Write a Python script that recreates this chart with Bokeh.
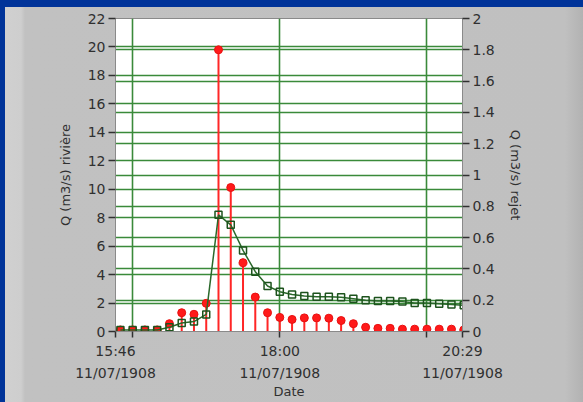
import pandas as pd
from bokeh.plotting import figure
from bokeh.layouts import column
from bokeh.models import LinearAxis, Range1d, FixedTicker, Grid, CustomJSTickFormatter
from bokeh.embed import file_html
from bokeh.resources import INLINE

# Sampling times (every 10 minutes, 11 July 1908)
times = ["1908-07-11 15:50", "1908-07-11 16:00", "1908-07-11 16:10", "1908-07-11 16:20",
         "1908-07-11 16:30", "1908-07-11 16:40", "1908-07-11 16:50", "1908-07-11 17:00",
         "1908-07-11 17:10", "1908-07-11 17:20", "1908-07-11 17:30", "1908-07-11 17:40",
         "1908-07-11 17:50", "1908-07-11 18:00", "1908-07-11 18:10", "1908-07-11 18:20",
         "1908-07-11 18:30", "1908-07-11 18:40", "1908-07-11 18:50", "1908-07-11 19:00",
         "1908-07-11 19:10", "1908-07-11 19:20", "1908-07-11 19:30", "1908-07-11 19:40",
         "1908-07-11 19:50", "1908-07-11 20:00", "1908-07-11 20:10", "1908-07-11 20:20",
         "1908-07-11 20:30"]

# River discharge (m3/s), left axis
q_riviere = [0.1, 0.1, 0.1, 0.1, 0.3, 0.6, 0.7, 1.2, 8.2, 7.5, 5.7, 4.2, 3.2, 2.8,
             2.6, 2.5, 2.45, 2.45, 2.4, 2.3, 2.2, 2.15, 2.15, 2.1, 2.0, 2.0, 1.95, 1.9, 1.85]

# Outflow discharge (m3/s), right axis
q_rejet = [0.01, 0.01, 0.01, 0.01, 0.05, 0.12, 0.11, 0.18, 1.80, 0.92, 0.44, 0.22, 0.12,
           0.09, 0.077, 0.087, 0.087, 0.085, 0.07, 0.05, 0.027, 0.02, 0.02, 0.015, 0.015,
           0.015, 0.015, 0.015, 0.01]

# Axis extents and tick marks
x_start = "1908-07-11 15:46"
x_end = "1908-07-11 20:29"
x_tick_times = ["1908-07-11 15:46", "1908-07-11 16:00", "1908-07-11 18:00",
                "1908-07-11 20:00", "1908-07-11 20:29"]
x_tick_labels = ["15:46\n11/07/1908", "", "18:00\n11/07/1908", "", "20:29\n11/07/1908"]
x_grid_times = ["1908-07-11 16:00", "1908-07-11 18:00", "1908-07-11 20:00"]
left_ticks = [0, 2, 4, 6, 8, 10, 12, 14, 16, 18, 20, 22]
right_ticks = [0, 0.2, 0.4, 0.6, 0.8, 1.0, 1.2, 1.4, 1.6, 1.8, 2.0]


def ms(s):
    return int(pd.Timestamp(s).value // 10**6)


t = [pd.Timestamp(s) for s in times]

FONT = "DejaVu Sans"
TXT = "#303030"
GRID = "#3a8a3a"

# Figure sits inside a blue frame (7px top, 5px left); its panel has a soft bevel
p = figure(width=578, height=395, x_axis_type="datetime",
           x_range=Range1d(pd.Timestamp(x_start), pd.Timestamp(x_end)),
           y_range=Range1d(0, 22),
           output_backend="svg", toolbar_location=None,
           min_border_left=110, min_border_right=121, min_border_top=11, min_border_bottom=71,
           background_fill_color="white", border_fill_alpha=0,
           outline_line_color="#8a8a8a", margin=(7, 0, 0, 5),
           styles={"background": "linear-gradient(to right, #d0d0d0 0px, #cecece 16px, "
                                 "#c1c1c1 20px, #c0c0c0 560px, #b2b2b2 578px)"})
p.extra_y_ranges = {"rejet": Range1d(0, 2)}

# x axis
xt = [ms(s) for s in x_tick_times]
xaxis = p.xaxis[0]
xaxis.ticker = FixedTicker(ticks=xt)
xaxis.major_label_overrides = {k: v for k, v in zip(xt, x_tick_labels)}
xaxis.axis_label = "Date"
p.xgrid.ticker = FixedTicker(ticks=[ms(s) for s in x_grid_times])

# left axis
yaxis = p.yaxis[0]
yaxis.ticker = FixedTicker(ticks=left_ticks)
yaxis.axis_label = "Q (m3/s) rivière"
p.ygrid.ticker = FixedTicker(ticks=left_ticks)

# right axis
raxis = LinearAxis(y_range_name="rejet", axis_label="Q (m3/s) rejet",
                   ticker=FixedTicker(ticks=right_ticks),
                   formatter=CustomJSTickFormatter(code="return String(Number(tick.toFixed(2)));"))
p.add_layout(raxis, "right")
p.add_layout(Grid(dimension=1, ticker=raxis.ticker, y_range_name="rejet"))

for ax in [xaxis, yaxis, raxis]:
    ax.major_label_text_font = FONT
    ax.major_label_text_font_size = "14px"
    ax.major_label_text_color = TXT
    ax.axis_label_text_font = FONT
    ax.axis_label_text_font_size = "13px"
    ax.axis_label_text_font_style = "normal"
    ax.axis_label_text_color = TXT
    ax.major_tick_line_color = TXT
    ax.major_tick_line_width = 1.5
    ax.major_tick_in = 0
    ax.major_tick_out = 7
    ax.minor_tick_line_color = None
    ax.axis_line_color = "#8a8a8a"
    ax.axis_label_standoff = 10
    ax.major_label_standoff = 3
yaxis.axis_label_standoff = 12
xaxis.major_tick_out = 6
xaxis.major_label_text_line_height = 1.4
xaxis.major_label_standoff = 5
xaxis.axis_label_standoff = 0

for g in p.grid:
    g.grid_line_color = GRID
    g.grid_line_width = 1.6
    g.grid_line_alpha = 1

# Outflow: red stems with dots
p.segment(x0=t, y0=[0] * len(t), x1=t, y1=q_rejet, y_range_name="rejet",
          line_color="#ff2626", line_width=2)
p.scatter(t, q_rejet, y_range_name="rejet", size=8, marker="circle",
          fill_color="#ff1a1a", line_color="#e81010")

# River: dark green line with hollow squares
p.line(t, q_riviere, line_color="#2a682a", line_width=1.5)
p.scatter(t, q_riviere, marker="square", size=7, fill_alpha=0,
          line_color="#1d531d", line_width=1.5)

page = column(p, width=583, height=402, styles={"background-color": "#003399"})
open("out.html", "w").write(file_html(page, INLINE))
